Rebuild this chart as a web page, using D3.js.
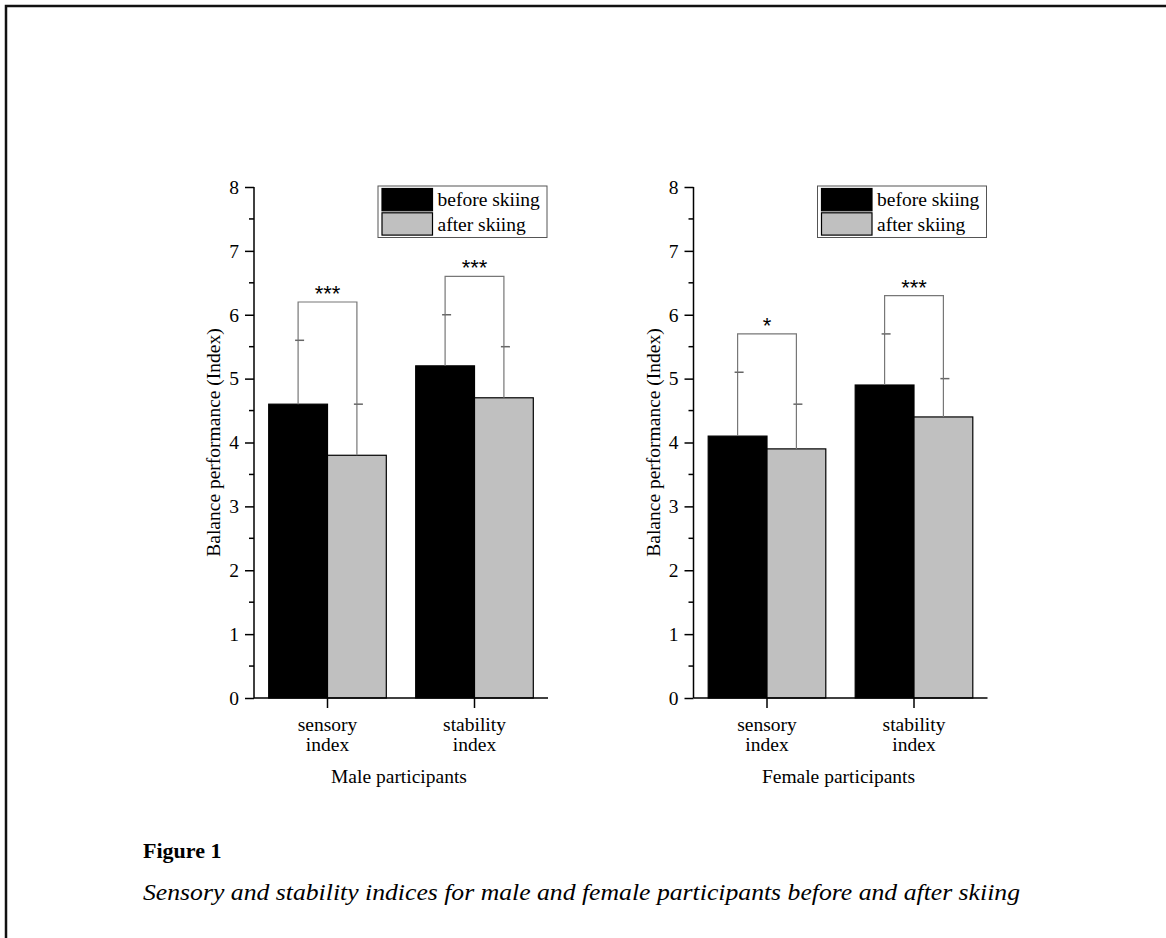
<!DOCTYPE html>
<html>
<head>
<meta charset="utf-8">
<script src="https://cdn.jsdelivr.net/npm/d3@7"></script>
<style>
  body { margin: 0; background: #fff; }
  svg { display: block; }
</style>
</head>
<body>
<script>
// Chart data
var categories = ["sensory index", "stability index"];
var seriesNames = ["before skiing", "after skiing"];
var yTicks = [0, 1, 2, 3, 4, 5, 6, 7, 8];

var maleBefore = [4.6, 5.2];
var maleAfter = [3.8, 4.7];
var maleBeforeErr = [1.0, 0.8];
var maleAfterErr = [0.8, 0.8];
var maleSig = ["***", "***"];
var maleSigLevel = [6.2, 6.6];

var femaleBefore = [4.1, 4.9];
var femaleAfter = [3.9, 4.4];
var femaleBeforeErr = [1.0, 0.8];
var femaleAfterErr = [0.7, 0.6];
var femaleSig = ["*", "***"];
var femaleSigLevel = [5.7, 6.3];

// SVG size
var svgWidth = 1166;
var svgHeight = 938;

var svg = d3.select("body")
            .append("svg")
            .attr("width", svgWidth)
            .attr("height", svgHeight);

// page frame (top and left edges only are visible)
svg.append("path")
   .attr("d", "M6,938 L6,6 L1166,6")
   .attr("fill", "none")
   .attr("stroke", "#111")
   .attr("stroke-width", 2.5);

var serif = "'Liberation Serif', 'Times New Roman', serif";
var fontSize = "19.5px";
var plotTop = 187, plotBottom = 698, plotWidth = 294;

function drawPanel(left, title, before, after, beforeErr, afterErr, sig, sigLevel) {
  var g = svg.append("g").attr("transform", `translate(${left}, 0)`);

  var y = d3.scaleLinear().domain([0, 8]).range([plotBottom, plotTop]);
  var x = d3.scaleBand().domain(categories).range([0, plotWidth])
            .paddingInner(0.2).paddingOuter(0.1);
  var xs = d3.scaleBand().domain(seriesNames).range([0, x.bandwidth()]);

  var rows = categories.map(function(c, i) {
    return {cat: c, vals: [before[i], after[i]], errs: [beforeErr[i], afterErr[i]],
            sig: sig[i], level: sigLevel[i]};
  });
  var fills = ["#000000", "#c0c0c0"];

  // bars
  rows.forEach(function(r) {
    g.selectAll(null).data(seriesNames).enter().append("rect")
     .attr("x", function(s) { return x(r.cat) + xs(s); })
     .attr("y", function(s, j) { return y(r.vals[j]); })
     .attr("width", xs.bandwidth())
     .attr("height", function(s, j) { return y(0) - y(r.vals[j]); })
     .attr("fill", function(s, j) { return fills[j]; })
     .attr("stroke", "#000")
     .attr("stroke-width", 1.2);
  });

  // error bars (upper only) and significance brackets
  rows.forEach(function(r) {
    var cx = seriesNames.map(function(s) { return x(r.cat) + xs(s) + xs.bandwidth() / 2; });
    seriesNames.forEach(function(s, j) {
      var top = r.vals[j] + r.errs[j];
      g.append("line")
       .attr("x1", cx[j]).attr("x2", cx[j])
       .attr("y1", y(r.vals[j])).attr("y2", y(top))
       .attr("stroke", "#777").attr("stroke-width", 1.2);
      g.append("line")
       .attr("x1", cx[j] - 3).attr("x2", cx[j] + 6)
       .attr("y1", y(top)).attr("y2", y(top))
       .attr("stroke", "#666").attr("stroke-width", 1.5);
    });
    var t0 = r.vals[0] + r.errs[0], t1 = r.vals[1] + r.errs[1];
    g.append("path")
     .attr("d", `M${cx[0]},${y(t0)} L${cx[0]},${y(r.level)} L${cx[1]},${y(r.level)} L${cx[1]},${y(t1)}`)
     .attr("fill", "none")
     .attr("stroke", "#777")
     .attr("stroke-width", 1.2);
    g.append("text")
     .attr("x", (cx[0] + cx[1]) / 2)
     .attr("y", y(r.level) - 1)
     .attr("text-anchor", "middle")
     .style("font-family", "'Liberation Sans', Arial, sans-serif")
     .style("font-size", "22px")
     .text(r.sig);
  });

  // y axis with minor ticks
  var yAxis = g.append("g")
               .call(d3.axisLeft(y).tickValues(yTicks).tickFormat(d3.format("d")).tickSize(9).tickPadding(6));
  yAxis.append("g").selectAll("line")
       .data(d3.range(0.5, 8, 1)).enter().append("line")
       .attr("x1", -5).attr("x2", 0)
       .attr("y1", function(d) { return y(d); })
       .attr("y2", function(d) { return y(d); })
       .attr("stroke", "#000");
  yAxis.select(".domain").attr("d", `M0,${y(0)}V${y(8)}`);

  // x axis
  var xAxis = g.append("g")
               .attr("transform", `translate(0, ${plotBottom})`)
               .call(d3.axisBottom(x).tickSize(10).tickFormat(""));
  xAxis.select(".domain").attr("d", `M0,0H${plotWidth}`);

  [yAxis, xAxis].forEach(function(a) {
    a.selectAll("path, line").attr("stroke", "#000").attr("stroke-width", 1.5);
    a.selectAll("text").style("font-family", serif).style("font-size", fontSize).attr("fill", "#000");
  });

  // two line category labels
  categories.forEach(function(c) {
    var words = c.split(" ");
    var t = g.append("text")
             .attr("text-anchor", "middle")
             .style("font-family", serif)
             .style("font-size", fontSize);
    words.forEach(function(w, k) {
      t.append("tspan")
       .attr("x", x(c) + x.bandwidth() / 2)
       .attr("y", 731 + k * 20)
       .text(w);
    });
  });

  // x title
  g.append("text")
   .attr("x", plotWidth / 2 - 2)
   .attr("y", 783)
   .attr("text-anchor", "middle")
   .style("font-family", serif)
   .style("font-size", fontSize)
   .text(title);

  // y title
  g.append("text")
   .attr("transform", "rotate(-90)")
   .attr("x", -(plotTop + plotBottom) / 2)
   .attr("y", -34)
   .attr("text-anchor", "middle")
   .style("font-family", serif)
   .style("font-size", fontSize)
   .text("Balance performance (Index)");

  // legend
  var lg = g.append("g").attr("transform", `translate(${plotWidth - 170}, ${plotTop - 1})`);
  lg.append("rect")
    .attr("width", 169).attr("height", 51.5)
    .attr("fill", "#fff").attr("stroke", "#555").attr("stroke-width", 1);
  seriesNames.forEach(function(s, j) {
    lg.append("rect")
      .attr("x", 4).attr("y", 2.5 + j * 24.3)
      .attr("width", 50.5).attr("height", 22.3)
      .attr("fill", fills[j]).attr("stroke", "#000").attr("stroke-width", 1.2);
    lg.append("text")
      .attr("x", 59.5).attr("y", 20 + j * 24.5)
      .style("font-family", serif)
      .style("font-size", fontSize)
      .text(s);
  });
}

drawPanel(254, "Male participants", maleBefore, maleAfter, maleBeforeErr, maleAfterErr, maleSig, maleSigLevel);
drawPanel(693.5, "Female participants", femaleBefore, femaleAfter, femaleBeforeErr, femaleAfterErr, femaleSig, femaleSigLevel);

// figure caption
svg.append("text")
   .attr("x", 143)
   .attr("y", 858)
   .style("font-family", serif)
   .style("font-weight", "bold")
   .style("font-size", "22px")
   .text("Figure 1");

svg.append("text")
   .attr("x", 143)
   .attr("y", 900)
   .attr("textLength", 877)
   .attr("lengthAdjust", "spacingAndGlyphs")
   .style("font-family", serif)
   .style("font-style", "italic")
   .style("font-size", "23px")
   .text("Sensory and stability indices for male and female participants before and after skiing");
</script>
</body>
</html>
